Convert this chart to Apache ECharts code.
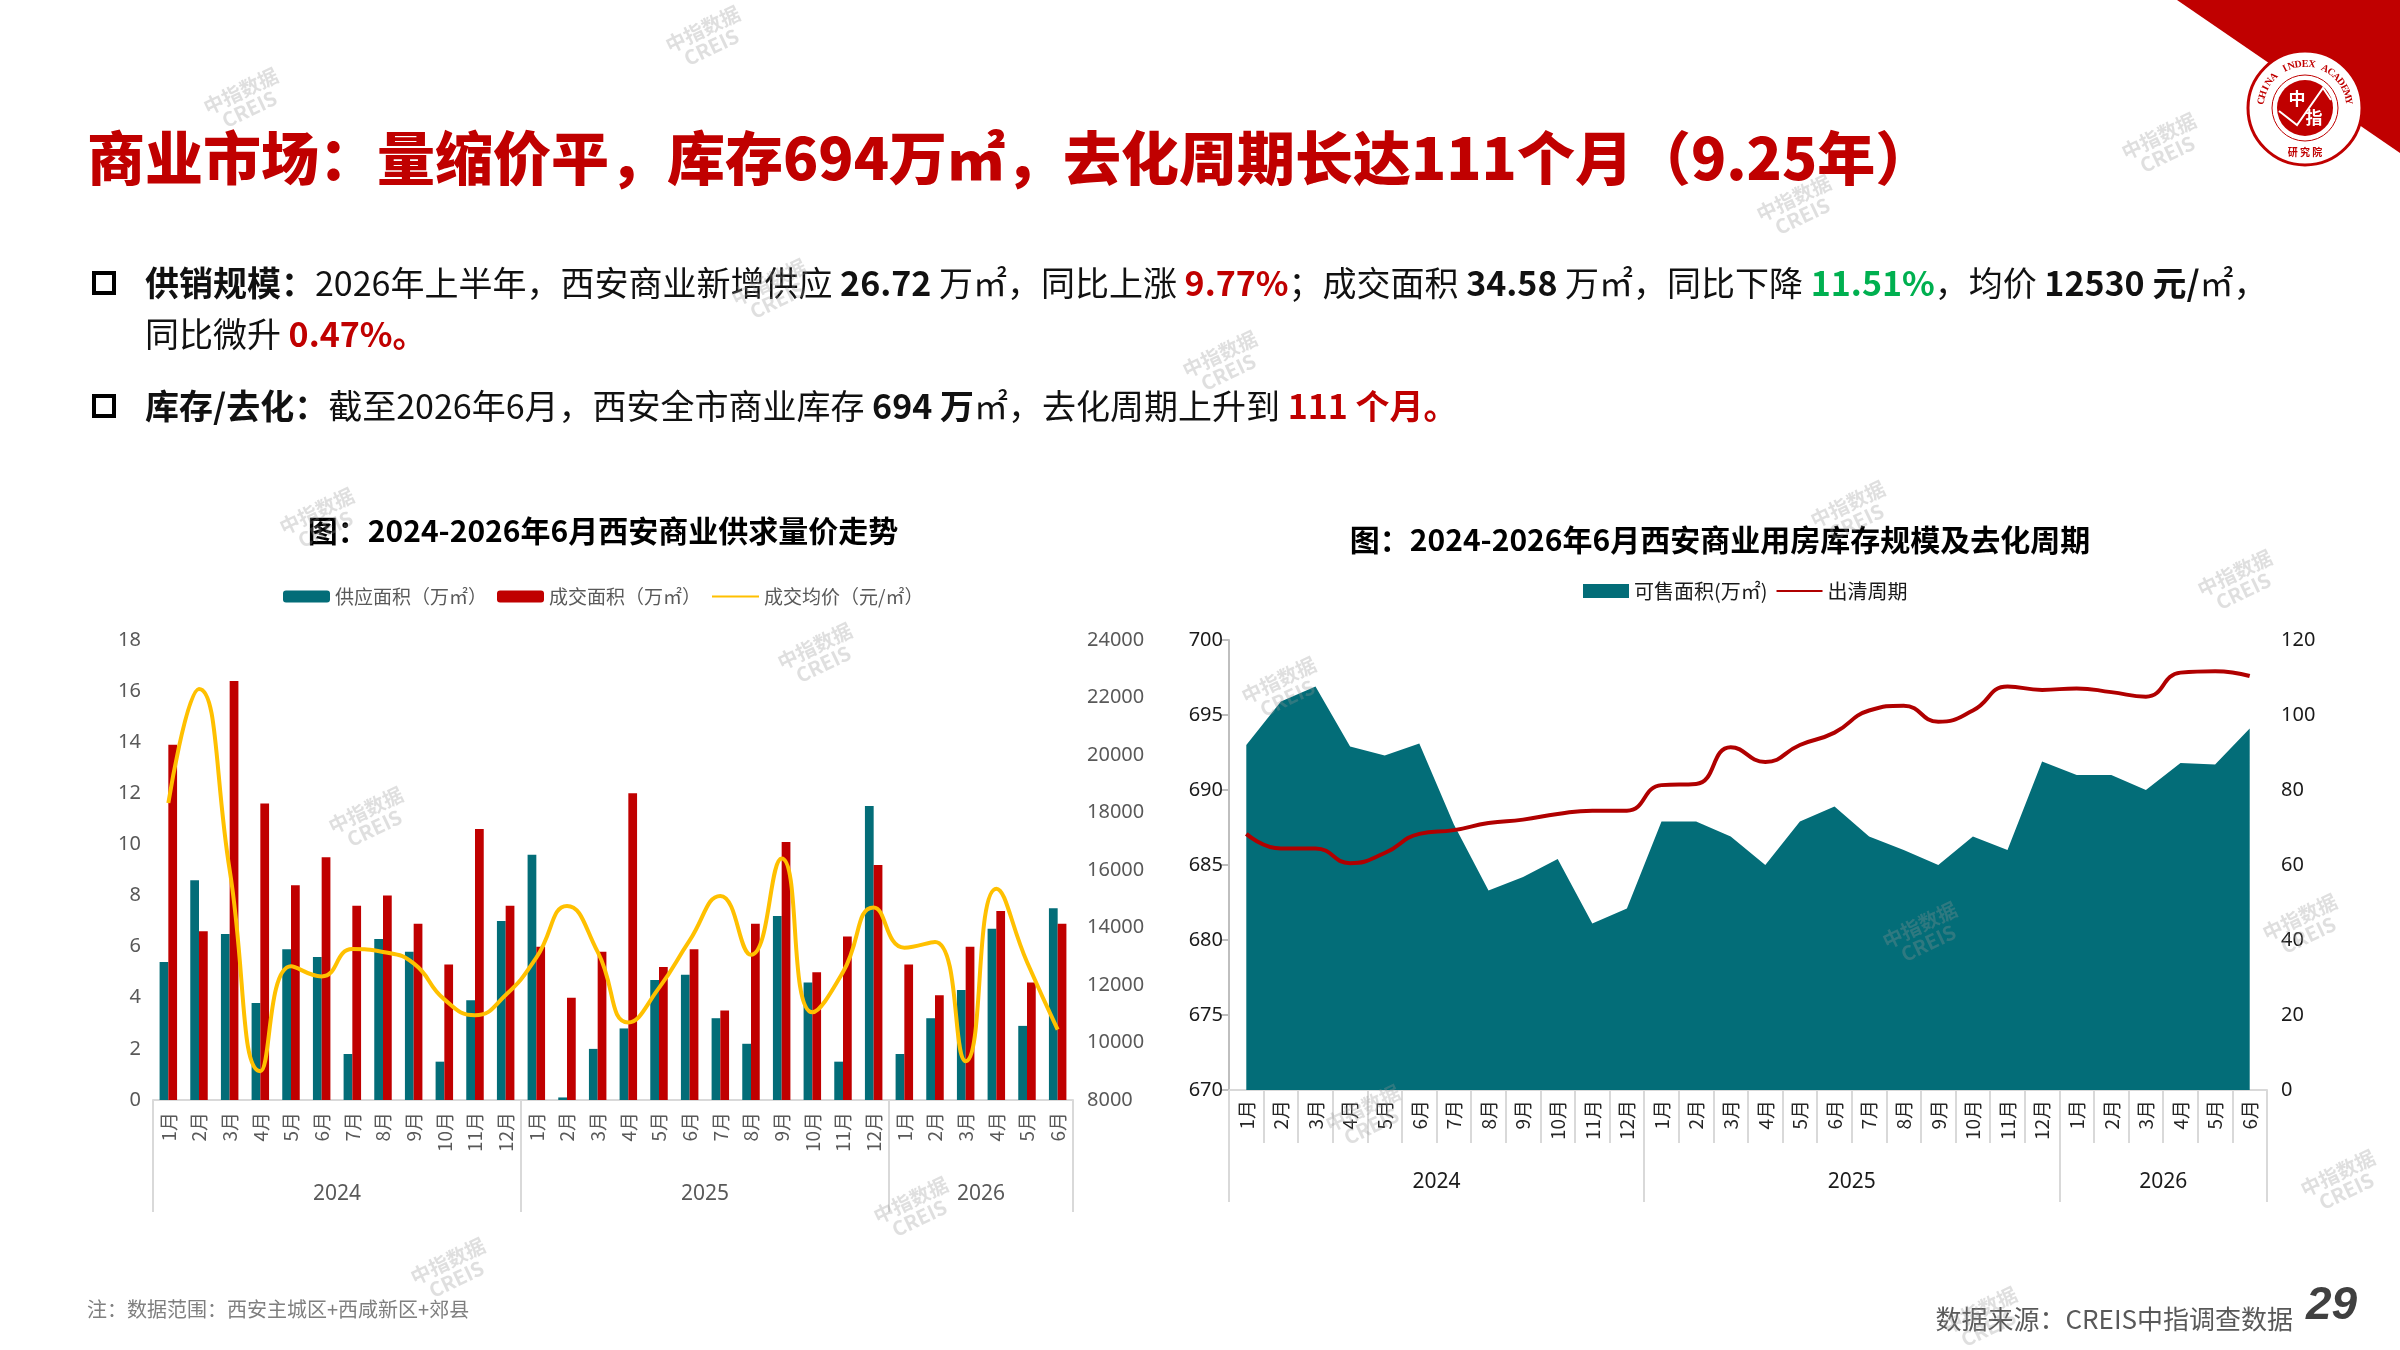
<!DOCTYPE html>
<html>
<head>
<meta charset="utf-8">
<title>西安商业市场</title>
<script src="https://cdn.jsdelivr.net/npm/echarts@6/dist/echarts.min.js"></script>
<style>
  html, body { margin: 0; padding: 0; background: #fff; }
  #main { width: 2400px; height: 1350px; }
</style>
</head>
<body>
<div id="main"></div>
<script>
// month axis, shared by both charts
var months = ['1月','2月','3月','4月','5月','6月','7月','8月','9月','10月','11月','12月',
              '1月','2月','3月','4月','5月','6月','7月','8月','9月','10月','11月','12月',
              '1月','2月','3月','4月','5月','6月'];
var years = ['2024', '2025', '2026'];
var yearMonths = [12, 12, 6];

// left chart: supply / deal area (万㎡), avg price (元/㎡)
var supply = [5.4, 8.6, 6.5, 3.8, 5.9, 5.6, 1.8, 6.3, 5.8, 1.5, 3.9, 7.0,
              9.6, 0.1, 2.0, 2.8, 4.7, 4.9, 3.2, 2.2, 7.2, 4.6, 1.5, 11.5,
              1.8, 3.2, 4.3, 6.7, 2.9, 7.5];
var deal = [13.9, 6.6, 16.4, 11.6, 8.4, 9.5, 7.6, 8.0, 6.9, 5.3, 10.6, 7.6,
            6.0, 4.0, 5.8, 12.0, 5.2, 5.9, 3.5, 6.9, 10.1, 5.0, 6.4, 9.2,
            5.3, 4.1, 6.0, 7.4, 4.6, 6.9];
var price = [18330, 22300, 16000, 9000, 12650, 12300, 13250, 13150, 12750, 11500, 10950, 11650,
             12950, 14750, 13150, 10700, 11900, 13550, 15100, 13050, 16400, 11050, 12450, 14700,
             13300, 13500, 9350, 15350, 12800, 10450];

// right chart: stock (万㎡), clearance cycle (月)
var stock = [693.0, 695.9, 696.9, 692.9, 692.3, 693.1, 687.7, 683.3, 684.2, 685.4, 681.1, 682.1,
             687.9, 687.9, 686.9, 685.0, 687.9, 688.9, 686.9, 686.0, 685.0, 686.9, 686.0, 691.9,
             691.0, 691.0, 690.0, 691.8, 691.7, 694.1];
var cycle = [68.3, 64.4, 64.4, 60.5, 63.2, 68.3, 69.3, 71.2, 72.1, 73.6, 74.5, 74.5,
             81.3, 81.6, 91.4, 87.5, 92.0, 95.3, 101.2, 102.5, 98.2, 101.2, 107.6, 106.7,
             107.1, 106.1, 104.9, 111.3, 111.7, 110.4];

var leftTicks = { min: 0, max: 18, interval: 2 };
var priceTicks = { min: 8000, max: 24000, interval: 2000 };
var stockTicks = { min: 670, max: 700, interval: 5 };
var cycleTicks = { min: 0, max: 120, interval: 20 };

var teal = '#036D78';
var red = '#C00000';
var gold = '#FFC000';
var cjk = "'Noto Sans CJK SC', 'Noto Sans', sans-serif";
var num = "'Noto Sans', 'Noto Sans CJK SC', sans-serif";

// year group boundaries and centers on a 0..30 scale
var yearBounds = [0];
var yearCenters = [];
yearMonths.forEach(function (n, i) {
  var s = yearBounds[i];
  yearCenters.push(s + n / 2);
  yearBounds.push(s + n);
});
function yearLabel(v) {
  var i = yearCenters.indexOf(v);
  return i >= 0 ? years[i] : '';
}

function yearAxis(grid, color, margin) {
  return {
    type: 'value', gridIndex: grid, min: 0, max: months.length, position: 'bottom',
    axisLine: { show: false },
    splitLine: { show: false },
    axisTick: { show: true, customValues: yearBounds, length: 112,
                lineStyle: { color: '#D9D9D9', width: 2 } },
    axisLabel: { show: true, customValues: yearCenters, formatter: yearLabel,
                 margin: margin, color: color, fontSize: 21, fontFamily: num }
  };
}

var watermarks = [[245,100],[707,38],[1798,207],[2163,145],[773,291],[1224,363],[321,520],
                  [1852,513],[2239,582],[819,655],[1283,689],[370,819],[2304,926],[1924,934],
                  [1367,1117],[915,1209],[452,1270],[2342,1182],[1984,1319]];

// logo ring lettering
var ring = 'CHINA INDEX ACADEMY';
var ringLetters = [];
for (var k = 0; k < ring.length; k++) {
  var a = Math.PI * (-0.95 + 0.9 * k / (ring.length - 1)) - Math.PI * 0.0;
  ringLetters.push({ type: 'text', x: 44 * Math.cos(a), y: 44 * Math.sin(a),
    rotation: -(a + Math.PI / 2),
    style: { text: ring[k], fill: red, font: 'bold 10px "Liberation Serif", serif', align: 'center', verticalAlign: 'middle' } });
}

var bodyRich = {
  n: { fontSize: 34, fontFamily: cjk, fill: '#111' },
  b: { fontSize: 34, fontFamily: cjk, fontWeight: 'bold', fill: '#111' },
  r: { fontSize: 34, fontFamily: cjk, fontWeight: 'bold', fill: red },
  g: { fontSize: 34, fontFamily: cjk, fontWeight: 'bold', fill: '#00B050' }
};

var graphics = [
  { type: 'polygon', shape: { points: [[2177,0],[2400,0],[2400,153]] }, style: { fill: red } },
  { type: 'group', x: 2305, y: 108, children: [
    { type: 'circle', shape: { r: 57 }, style: { fill: '#fff', stroke: red, lineWidth: 3 } },
    { type: 'circle', shape: { r: 33 }, style: { fill: 'none', stroke: red, lineWidth: 1 } },
    { type: 'circle', shape: { r: 28 }, style: { fill: red } },
    { type: 'text', x: -8, y: -9, style: { text: '中', fill: '#fff', font: 'bold 17px ' + cjk, align: 'center', verticalAlign: 'middle' } },
    { type: 'text', x: 9, y: 10, style: { text: '指', fill: '#fff', font: 'bold 17px ' + cjk, align: 'center', verticalAlign: 'middle' } },
    { type: 'polyline', shape: { points: [[-26,3],[-8,17],[18,-20],[26,-8]] }, style: { stroke: '#fff', lineWidth: 2, fill: 'none' } },
    { type: 'text', x: 0, y: 44, style: { text: '研 究 院', fill: red, font: 'bold 10px ' + cjk, align: 'center', verticalAlign: 'middle' } }
  ].concat(ringLetters) },
  { type: 'text', x: 87, y: 158, style: {
      text: '商业市场：量缩价平，库存694万㎡，去化周期长达111个月（9.25年）',
      font: '900 58px ' + cjk, fill: red, verticalAlign: 'middle' } },
  { type: 'rect', shape: { x: 94, y: 273, width: 20, height: 20 }, style: { fill: 'none', stroke: '#000', lineWidth: 4 } },
  { type: 'rect', shape: { x: 94, y: 396, width: 20, height: 20 }, style: { fill: 'none', stroke: '#000', lineWidth: 4 } },
  { type: 'text', x: 145, y: 283, style: {
      text: '{b|供销规模：}{n|2026年上半年，西安商业新增供应 }{b|26.72}{n| 万㎡，同比上涨 }{r|9.77%}{n|；成交面积 }{b|34.58}{n| 万㎡，同比下降 }{g|11.51%}{n|，均价 }{b|12530 元/}{n|㎡，}',
      verticalAlign: 'middle', rich: bodyRich } },
  { type: 'text', x: 145, y: 334, style: {
      text: '{n|同比微升 }{r|0.47%。}',
      verticalAlign: 'middle', rich: bodyRich } },
  { type: 'text', x: 145, y: 406, style: {
      text: '{b|库存/去化：}{n|截至2026年6月，西安全市商业库存 }{b|694 万}{n|㎡，去化周期上升到 }{r|111 个月。}',
      verticalAlign: 'middle', rich: bodyRich } },
  { type: 'text', x: 603, y: 531, style: { text: '图：2024-2026年6月西安商业供求量价走势',
      font: 'bold 30px ' + cjk, fill: '#000', align: 'center', verticalAlign: 'middle' } },
  { type: 'text', x: 1720, y: 540, style: { text: '图：2024-2026年6月西安商业用房库存规模及去化周期',
      font: 'bold 30px ' + cjk, fill: '#000', align: 'center', verticalAlign: 'middle' } },
  { type: 'text', x: 87, y: 1309, style: { text: '注：数据范围：西安主城区+西咸新区+郊县',
      font: '20px ' + cjk, fill: '#7F7F7F', verticalAlign: 'middle' } },
  { type: 'text', x: 2293, y: 1319, style: { text: '数据来源：CREIS中指调查数据',
      font: '26px ' + cjk, fill: '#595959', align: 'right', verticalAlign: 'middle' } },
  { type: 'text', x: 2306, y: 1306, style: { text: '29',
      font: 'italic bold 46px "Liberation Sans", Arial, sans-serif', fill: '#404040', verticalAlign: 'middle' } }
];
watermarks.forEach(function (p) {
  graphics.push({ type: 'text', x: p[0], y: p[1], rotation: 0.45, z: 100, silent: true,
    style: { text: '中指数据\nCREIS', font: 'bold 20px ' + cjk, lineHeight: 20,
             fill: 'rgba(150,150,150,0.3)', align: 'center', verticalAlign: 'middle' } });
});

var option = {
  backgroundColor: '#fff',
  animation: false,
  textStyle: { fontFamily: cjk },
  graphic: graphics,
  legend: [
    { data: ['供应面积（万㎡）', '成交面积（万㎡）',
             { name: '成交均价（元/㎡）', itemStyle: { opacity: 0 } }],
      left: 278, top: 582, itemWidth: 47, itemHeight: 12, itemGap: 10,
      textStyle: { fontSize: 19, color: '#595959', fontFamily: cjk } },
    { data: [{ name: '可售面积(万㎡)', icon: 'rect' },
             { name: '出清周期', itemStyle: { opacity: 0 } }],
      left: 1578, top: 576, itemWidth: 46, itemHeight: 14, itemGap: 8,
      textStyle: { fontSize: 20, color: '#1a1a1a', fontFamily: cjk } }
  ],
  grid: [
    { left: 153, right: 1327, top: 640, bottom: 250 },
    { left: 1229, right: 133, top: 640, bottom: 260 }
  ],
  xAxis: [
    { type: 'category', gridIndex: 0, data: months, boundaryGap: true,
      axisLine: { lineStyle: { color: '#D9D9D9', width: 2 } },
      axisTick: { show: false },
      axisLabel: { interval: 0, rotate: 90, margin: 12, fontSize: 19, color: '#595959', fontFamily: cjk } },
    yearAxis(0, '#595959', 84),
    { type: 'category', gridIndex: 1, data: months, boundaryGap: true,
      axisLine: { lineStyle: { color: '#D9D9D9', width: 2 } },
      axisTick: { show: true, interval: 0, alignWithLabel: false, length: 53,
                  lineStyle: { color: '#D9D9D9', width: 2 } },
      axisLabel: { interval: 0, rotate: 90, margin: 10, fontSize: 19, color: '#262626', fontFamily: cjk } },
    yearAxis(1, '#1a1a1a', 82)
  ],
  yAxis: [
    { type: 'value', gridIndex: 0, min: leftTicks.min, max: leftTicks.max, interval: leftTicks.interval,
      axisLine: { show: false }, axisTick: { show: false }, splitLine: { show: false },
      axisLabel: { margin: 12, fontSize: 20, color: '#595959', fontFamily: num, formatter: '{value}' } },
    { type: 'value', gridIndex: 0, position: 'right', min: priceTicks.min, max: priceTicks.max, interval: priceTicks.interval,
      axisLine: { show: false }, axisTick: { show: false }, splitLine: { show: false },
      axisLabel: { margin: 14, fontSize: 20, color: '#595959', fontFamily: num,
                   formatter: function (v) { return String(v); } } },
    { type: 'value', gridIndex: 1, min: stockTicks.min, max: stockTicks.max, interval: stockTicks.interval,
      axisLine: { show: true, lineStyle: { color: '#BFBFBF', width: 2 } },
      axisTick: { show: true, length: 8, lineStyle: { color: '#BFBFBF', width: 2 } },
      splitLine: { show: false },
      axisLabel: { margin: 6, fontSize: 20, color: '#1a1a1a', fontFamily: num } },
    { type: 'value', gridIndex: 1, position: 'right', min: cycleTicks.min, max: cycleTicks.max, interval: cycleTicks.interval,
      axisLine: { show: false }, axisTick: { show: false }, splitLine: { show: false },
      axisLabel: { margin: 14, fontSize: 20, color: '#1a1a1a', fontFamily: num } }
  ],
  series: [
    { name: '供应面积（万㎡）', type: 'bar', xAxisIndex: 0, yAxisIndex: 0, data: supply,
      barGap: '0%', barCategoryGap: '43%', itemStyle: { color: teal } },
    { name: '成交面积（万㎡）', type: 'bar', xAxisIndex: 0, yAxisIndex: 0, data: deal,
      barGap: '0%', barCategoryGap: '43%', itemStyle: { color: red } },
    { name: '成交均价（元/㎡）', type: 'line', xAxisIndex: 0, yAxisIndex: 1, data: price,
      smooth: 0.5, symbol: 'none', lineStyle: { color: gold, width: 4 }, itemStyle: { color: gold }, z: 5 },
    { name: '可售面积(万㎡)', type: 'line', xAxisIndex: 2, yAxisIndex: 2, data: stock,
      symbol: 'none', lineStyle: { width: 0, color: teal }, itemStyle: { color: teal },
      areaStyle: { color: teal, opacity: 1 } },
    { name: '出清周期', type: 'line', xAxisIndex: 2, yAxisIndex: 3, data: cycle,
      smooth: 0.5, symbol: 'none', lineStyle: { color: '#B00000', width: 4 }, itemStyle: { color: '#B00000' }, z: 5 }
  ]
};

var myChart = echarts.init(document.getElementById('main'));
myChart.setOption(option);
</script>
</body>
</html>
